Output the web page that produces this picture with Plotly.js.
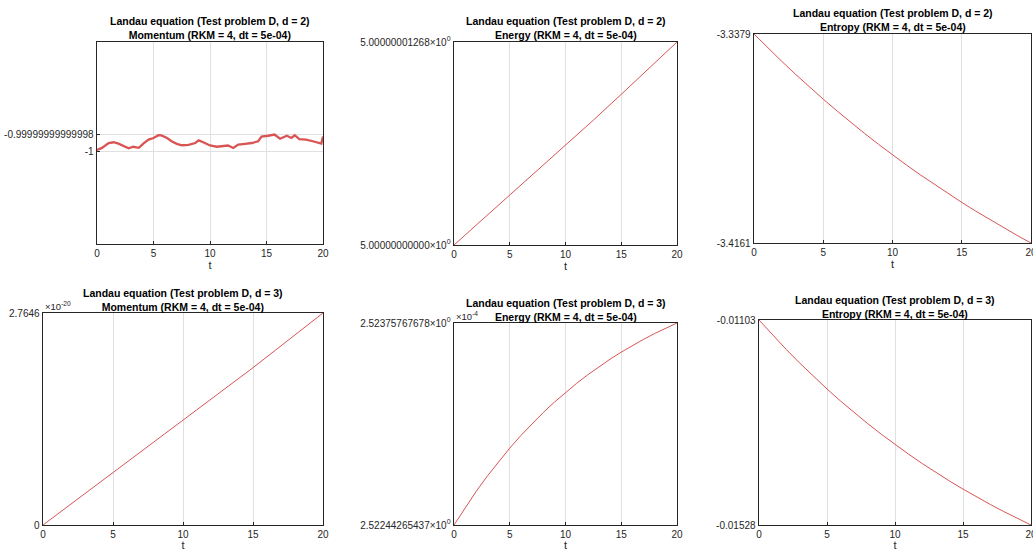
<!DOCTYPE html>
<html>
<head>
<meta charset="utf-8">
<script src="https://cdn.plot.ly/plotly-3.0.1.min.js"></script>
<style>html,body{margin:0;padding:0;background:#fff;}#chart{width:1033px;height:551px;}</style>
</head>
<body>
<div id="chart"></div>
<script>
// ---------- data ----------
// Momentum, d = 2 : deviation from -1, in units of 1e-14
const tMomD2 = [0,0.44,1.03,1.47,1.9,2.35,2.8,3.2,3.7,4.1,4.56,5.0,5.44,5.7,6.2,6.6,7.06,7.5,8.1,8.7,9.0,9.4,10.0,10.6,11.2,11.6,12.06,12.5,13.1,13.7,14.26,14.56,15.15,15.7,16.2,16.8,17.2,17.5,17.9,18.5,19.1,19.7,19.85,20];
const momD2Dev = [0.12,0.38,0.96,1.04,0.88,0.58,0.31,0.50,0.38,0.88,1.35,1.54,1.88,1.85,1.54,1.15,0.85,0.69,0.73,0.96,1.27,1.04,0.65,0.50,0.58,0.65,0.35,0.77,0.85,0.96,1.15,1.73,1.81,1.96,1.46,1.81,1.54,1.88,1.42,1.35,1.15,0.96,0.88,1.73];

// Energy, d = 2
const tEnD2 = [0,2.5,5,7.5,10,12.5,15,17.5,20];
const enD2 = [5.0,5.0000000000155,5.0000000000314,5.0000000000467,5.0000000000620,5.0000000000780,5.0000000000941,5.0000000001104,5.0000000001268];

// Entropy, d = 2
const tInt = [0,1,2,3,4,5,6,7,8,9,10,11,12,13,14,15,16,17,18,19,20];
const entD2 = [-3.3379,-3.34308,-3.34811,-3.35298,-3.35771,-3.36228,-3.36672,-3.37101,-3.37517,-3.37921,-3.38312,-3.38690,-3.39057,-3.39413,-3.39757,-3.40091,-3.40414,-3.40728,-3.41032,-3.41326,-3.4161];

// Momentum, d = 3
const tMomD3 = [0,5,10,15,20];
const momD3 = [0,0.6801e-20,1.3685e-20,2.0513e-20,2.7646e-20];

// Energy, d = 3
const enD3 = [2.52244265437e-4,2.52255614e-4,2.52266252e-4,2.52276220e-4,2.52285570e-4,2.52294328e-4,2.52302534e-4,2.52310240e-4,2.52317459e-4,2.52324218e-4,2.52330570e-4,2.52336514e-4,2.52342089e-4,2.52347310e-4,2.52352202e-4,2.52356791e-4,2.52361091e-4,2.52365129e-4,2.52368916e-4,2.52372453e-4,2.52375767678e-4];

// Entropy, d = 3
const entD3 = [-0.011030,-0.011342,-0.011639,-0.011925,-0.012198,-0.012460,-0.012711,-0.012951,-0.013180,-0.013400,-0.013611,-0.013812,-0.014005,-0.014190,-0.014367,-0.014536,-0.014698,-0.014853,-0.015002,-0.015144,-0.01528];

const xTicks = [0,5,10,15,20];
const titlesTop = ['Landau equation (Test problem D, d = 2)','Landau equation (Test problem D, d = 3)'];
const titlesSub = ['Momentum (RKM = 4, dt = 5e-04)','Energy (RKM = 4, dt = 5e-04)','Entropy (RKM = 4, dt = 5e-04)'];

// y ticks
const yTicks1 = [-1, -0.99999999999998];
const yText1 = ['-1', '-0.99999999999998'];
const yTicks2 = [5.0, 5.0000000001268];
const yText2 = ['5.00000000000×10<sup>0</sup>', '5.00000001268×10<sup>0</sup>'];
const yTicks3 = [-3.4161, -3.3379];
const yText3 = ['-3.4161', '-3.3379'];
const yTicks4 = [0, 2.7646e-20];
const yText4 = ['0', '2.7646'];
const yTicks5 = [2.52244265437e-4, 2.52375767678e-4];
const yText5 = ['2.52244265437×10<sup>0</sup>', '2.52375767678×10<sup>0</sup>'];
const yTicks6 = [-0.01528, -0.01103];
const yText6 = ['-0.01528', '-0.01103'];

// ---------- layout helpers ----------
const W = 1033, H = 551;
const boxes = [
  [97,323,42,244],[454,677,42,245],[754,1031,34,243],
  [43,323,313,525],[454,677,323,525],[759,1031,320,525]
];
const lineColor = 'rgb(217,84,84)';
const axColor = '#262626';
const FONT = 'Liberation Sans, Arial, Helvetica, sans-serif';

const traces = [];
const yData = [
  momD2Dev.map(d => -1 + d*1e-14), enD2, entD2, momD3, enD3, entD3
];
const xData = [tMomD2, tEnD2, tInt, tMomD3, tInt, tInt];
const widths = [2.3,1,1,1,1,1];
for (let i=0;i<6;i++){
  traces.push({x:xData[i], y:yData[i], type:'scatter', mode:'lines',
    line:{color:lineColor,width:widths[i]}, xaxis:'x'+(i+1), yaxis:'y'+(i+1),
    hoverinfo:'skip', showlegend:false});
}

const yRanges = [
  [-1 - 11.07e-14, -1 + 12.98e-14],
  [5.0, 5.0000000001268],
  [-3.4161, -3.3379],
  [0, 2.7646e-20],
  [2.52244265437e-4, 2.52375767678e-4],
  [-0.01528, -0.01103]
];
const yTV = [yTicks1,yTicks2,yTicks3,yTicks4,yTicks5,yTicks6];
const yTT = [yText1,yText2,yText3,yText4,yText5,yText6];

const layout = {
  width:W, height:H, margin:{l:0,r:0,t:0,b:0},
  paper_bgcolor:'#fff', plot_bgcolor:'#fff',
  font:{family:FONT, size:10, color:axColor},
  showlegend:false, annotations:[]
};
for (let i=0;i<6;i++){
  const [x0,x1,y0,y1] = boxes[i];
  const k = i+1;
  layout['xaxis'+k] = {
    domain:[x0/W, x1/W], anchor:'y'+k, range:[0,20],
    tickmode:'array', tickvals:xTicks, ticktext:xTicks.map(String),
    ticks:'inside', ticklen:3, tickcolor:axColor,
    showgrid:true, gridcolor:'#e0e0e0', gridwidth:1,
    showline:true, linecolor:axColor, linewidth:1.4, mirror:true,
    zeroline:false, tickfont:{size:10, family:FONT, color:axColor},
    ticklabeloverflow:'allow',
    title:{text:'t', font:{size:11, family:FONT, color:axColor}, standoff:i<3?2:3},
    automargin:false, fixedrange:true
  };
  layout['yaxis'+k] = {
    domain:[1-y1/H, 1-y0/H], anchor:'x'+k, range:yRanges[i],
    tickmode:'array', tickvals:yTV[i], ticktext:yTT[i],
    ticks:'inside', ticklen:3, tickcolor:axColor,
    showgrid:true, gridcolor:'#e0e0e0', gridwidth:1,
    showline:true, linecolor:axColor, linewidth:1.4, mirror:true,
    zeroline:false, tickfont:{size:10, family:FONT, color:axColor},
    ticklabeloverflow:'allow',
    automargin:false, fixedrange:true
  };
  const cx = (x0+x1)/2/W;
  const top = 1 - y0/H;
  layout.annotations.push({
    xref:'paper', yref:'paper', x:cx, y:top, yshift:-1.5,
    xanchor:'center', yanchor:'bottom', showarrow:false,
    text:'<b>'+titlesTop[i<3?0:1]+'</b><br><b>'+titlesSub[i%3]+'</b>',
    font:{size:10.5, family:FONT, color:'#000'}, align:'center'
  });
}
// exponent labels
layout.annotations.push({xref:'paper', yref:'paper', x:boxes[3][0]/W, y:1-boxes[3][2]/H,
  xanchor:'left', yanchor:'bottom', showarrow:false, text:'×10<sup>-20</sup>',
  font:{size:9.5, family:FONT, color:axColor}, yshift:-1});
layout.annotations.push({xref:'paper', yref:'paper', x:boxes[4][0]/W, y:1-boxes[4][2]/H,
  xanchor:'left', yanchor:'bottom', showarrow:false, text:'×10<sup>-4</sup>',
  font:{size:9.5, family:FONT, color:axColor}, yshift:-1});

Plotly.newPlot('chart', traces, layout, {staticPlot:true, displayModeBar:false});
</script>
</body>
</html>
